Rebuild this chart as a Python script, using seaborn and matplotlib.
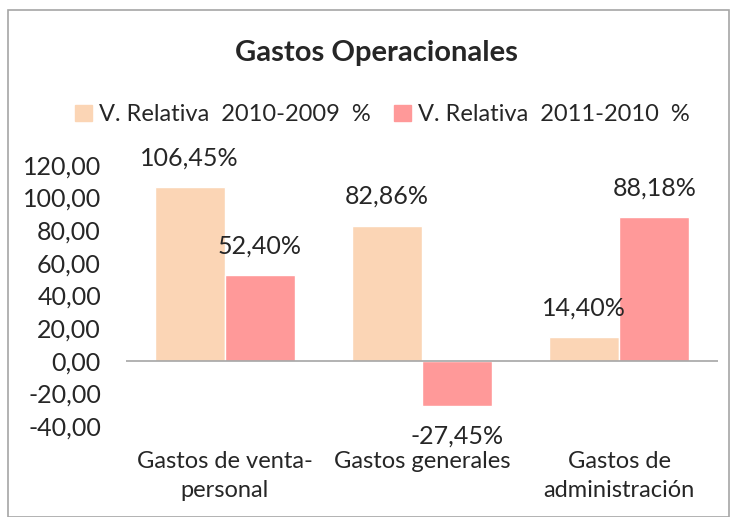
import pandas as pd
import numpy as np
import matplotlib
matplotlib.use("Agg")
import matplotlib.pyplot as plt
import matplotlib.ticker as mticker
from matplotlib.patches import Rectangle
import seaborn as sns

# Datos del gráfico
categorias = ["Gastos de venta-\npersonal", "Gastos generales", "Gastos de\nadministración"]
series = ["V. Relativa  2010-2009  %", "V. Relativa  2011-2010  %"]
v_2010_2009 = [106.45, 82.86, 14.40]
v_2011_2010 = [52.40, -27.45, 88.18]
colores = ["#FBD5B5", "#FF9999"]

df = pd.DataFrame({
    "Categoria": categorias * 2,
    "Serie": [series[0]] * 3 + [series[1]] * 3,
    "Valor": v_2010_2009 + v_2011_2010,
})

sns.set_style("white")
plt.rcParams["font.family"] = ["Lato", "DejaVu Sans"]

fig = plt.figure(figsize=(7.3, 5.17), dpi=100)
ax = fig.add_axes([0.1726, 0.176, 0.811, 0.505])

# Borde gris del gráfico
fig.patches.append(Rectangle((8 / 730, 0), 1 - 9 / 730, 1 - 10 / 517,
                             transform=fig.transFigure, fill=False,
                             edgecolor="#A6A6A6", linewidth=1.2))

sns.barplot(data=df, x="Categoria", y="Valor", hue="Serie", palette=colores,
            width=0.71, ax=ax, saturation=1, legend=False)

# Etiquetas de datos
for cont in ax.containers:
    for bar in cont:
        h = bar.get_height()
        x = bar.get_x() + bar.get_width() / 2
        txt = f"{h:.2f}%".replace(".", ",")
        off = 21 if h >= 0 else -22
        ax.annotate(txt, (x, h), xytext=(0, off), textcoords="offset points",
                    ha="center", va="center", fontsize=18)

ax.set_ylim(-40, 120)
ax.yaxis.set_major_locator(mticker.MultipleLocator(20))
ax.yaxis.set_major_formatter(mticker.FuncFormatter(lambda v, p: f"{v:.2f}".replace(".", ",")))
ax.axhline(0, color="#A6A6A6", linewidth=1.2)
for s in ax.spines.values():
    s.set_visible(False)
ax.tick_params(axis="y", length=0, labelsize=18, pad=18)
ax.tick_params(axis="x", length=0, labelsize=17, pad=18)
ax.set_xlabel("")
ax.set_ylabel("")
for lbl in ax.get_xticklabels():
    lbl.set_va("top")
    lbl.set_linespacing(1.45)

fig.text(0.515, 0.897, "Gastos Operacionales", ha="center", va="center",
         fontsize=21, fontweight="bold")

handles = [Rectangle((0, 0), 1, 1, color=c) for c in colores]
fig.legend(handles, series, loc="center", bbox_to_anchor=(0.524, 0.778), ncol=2,
           frameon=False, fontsize=17, handlelength=0.7, handleheight=0.7,
           handletextpad=0.3, columnspacing=1.0)

fig.savefig("out.png", dpi=100)
